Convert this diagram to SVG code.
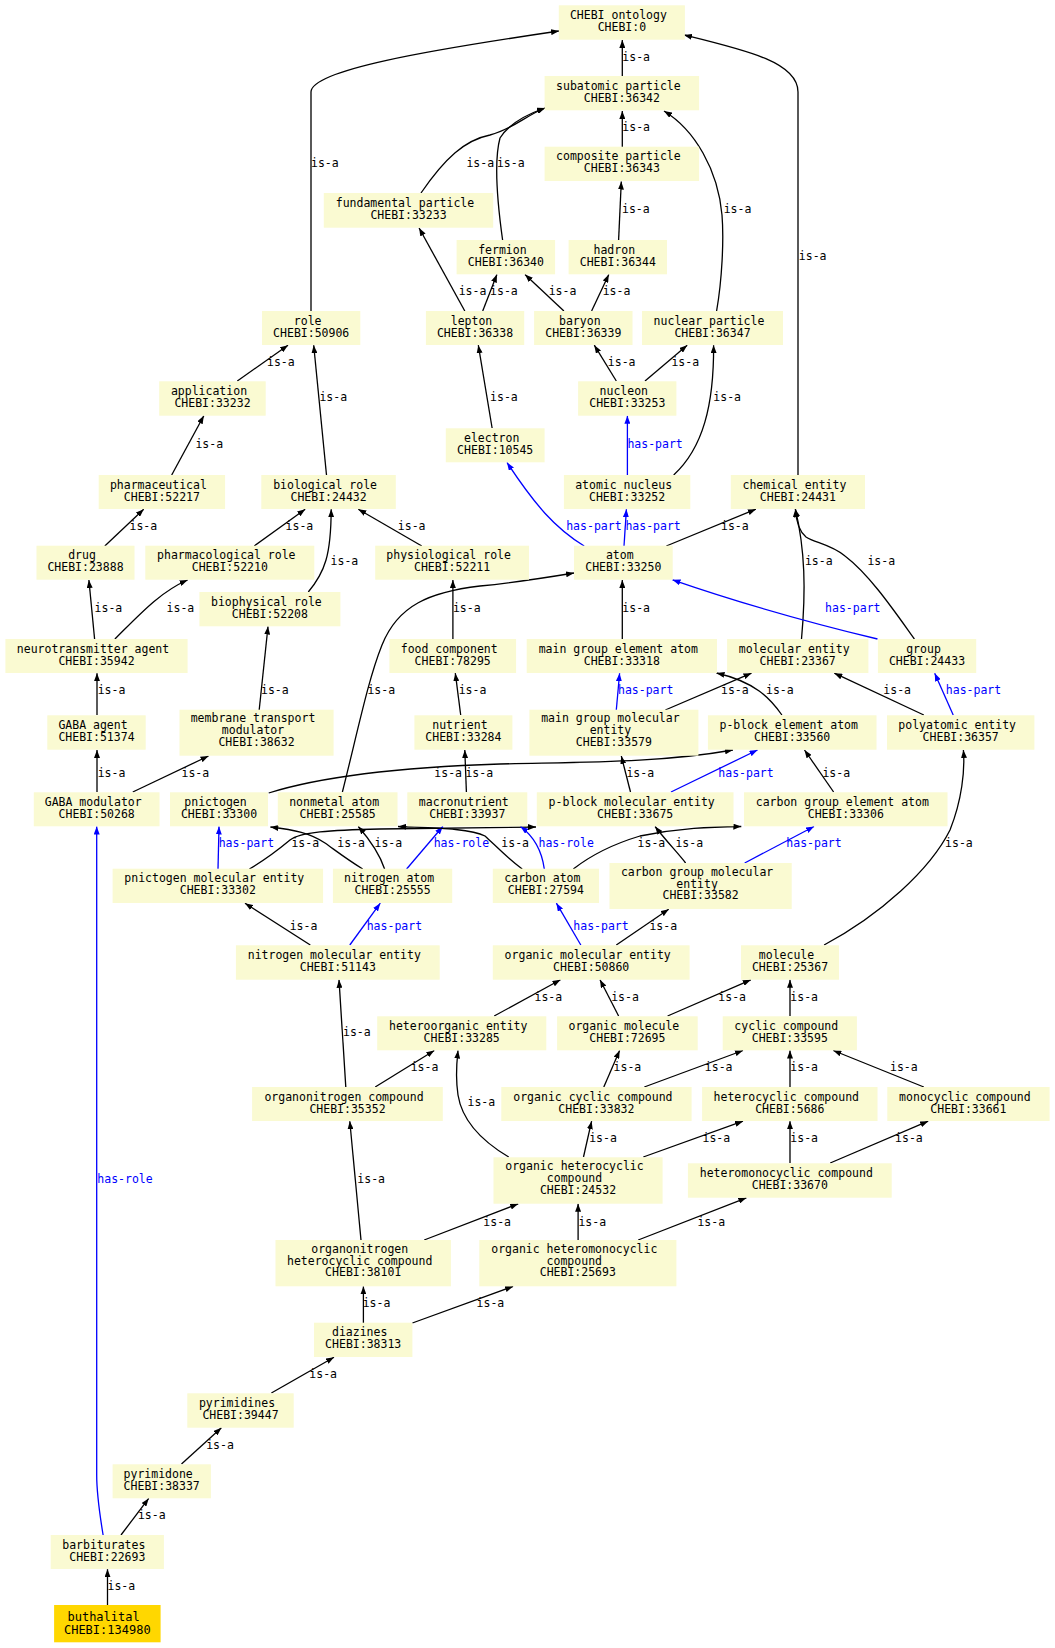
<svg xmlns="http://www.w3.org/2000/svg" width="1055" height="1648" viewBox="0 0 1055 1648">
<style>
.n rect{fill:#fafad2;stroke:none}
.n text,.l{font-family:"DejaVu Sans Mono","Liberation Mono",monospace;font-size:11.5px;fill:#000}
.n text{text-anchor:middle}
.e{fill:none;stroke:#000;stroke-width:1.3;marker-end:url(#ab)}
.e.b{stroke:#0000ff;marker-end:url(#au)}
.l.b{fill:#0000ff}
</style>
<defs>
<marker id="ab" viewBox="0 0 10 10" refX="10" refY="5" markerWidth="8" markerHeight="6" markerUnits="userSpaceOnUse" orient="auto" preserveAspectRatio="none"><path d="M0,0L10,5L0,10z" fill="#000"/></marker>
<marker id="au" viewBox="0 0 10 10" refX="10" refY="5" markerWidth="8" markerHeight="6" markerUnits="userSpaceOnUse" orient="auto" preserveAspectRatio="none"><path d="M0,0L10,5L0,10z" fill="#0000ff"/></marker>
</defs>
<rect width="1055" height="1648" fill="#fff"/>
<g id="connectors">
<path class="e" d="M622.3,76 L622.3,40"/>
<path class="e" d="M311,311 L311,92 C311,70 430,50 559,31"/>
<path class="e" d="M798,475 L798,92 C798,62 745,50 684,35"/>
<path class="e" d="M622.3,147 L622.3,111"/>
<path class="e" d="M421,193 C445,158 465,140 490,135 C515,128 525,116 545,108"/>
<path class="e" d="M502.6,240 C497,200 494,160 500,138 C508,125 525,115 545,108"/>
<path class="e" d="M618.6,240 L621.3,181.5"/>
<path class="e" d="M716.6,311 C722,280 724,240 722,215 C718,170 695,130 664,111"/>
<path class="e" d="M464.8,311 L419.1,228"/>
<path class="e" d="M482.7,311 L496.9,274.5"/>
<path class="e" d="M563.9,311 L525,274.5"/>
<path class="e" d="M591.6,311 L608.8,274.5"/>
<path class="e" d="M616.3,381 L594.3,345.2"/>
<path class="e" d="M645,381 L687.2,345.2"/>
<path class="e" d="M237.3,381 L288,345.2"/>
<path class="e" d="M326.5,475 L313.7,345.2"/>
<path class="e" d="M492.1,428 L478.3,345.2"/>
<path class="e b" d="M627.4,475 L627.4,415.8"/>
<path class="e" d="M673.7,475 C703,448 714,405 713.6,345.2"/>
<path class="e" d="M171.7,475 L203.8,415.8"/>
<path class="e" d="M104.8,546 L143.7,509.2"/>
<path class="e" d="M254.2,546 L305.2,509.2"/>
<path class="e" d="M308.3,592 C325,572 331,555 331.2,509.2"/>
<path class="e" d="M421.8,546 L358.3,509.2"/>
<path class="e b" d="M584.2,546 C555,528 535,505 507,462.5"/>
<path class="e b" d="M624,546 L626.4,509.2"/>
<path class="e" d="M666.3,546 L755.9,509.2"/>
<path class="e" d="M801.5,639 C806,590 805,550 795.4,509.2"/>
<path class="e" d="M914.4,639 C895,612 870,575 845,556 C830,544 815,543 806,537 C798,530 796,520 795.4,509.2"/>
<path class="e b" d="M877.5,639 C840,630 760,610 672.5,579.8"/>
<path class="e" d="M622.3,639 L622.3,580"/>
<path class="e" d="M94.6,639 L88.9,580"/>
<path class="e" d="M114.9,639 C140,614 160,592 187.6,580"/>
<path class="e" d="M452.9,639 L452.9,580"/>
<path class="e" d="M342.4,792 C358,730 368,680 382,645 C398,605 430,592 480,586 C520,582 550,577 574,573"/>
<path class="e" d="M97,715 L97,673.2"/>
<path class="e" d="M259.2,710 L268,626.5"/>
<path class="e" d="M460.7,715 L455.3,673.2"/>
<path class="e b" d="M616.3,710 L619.6,673.2"/>
<path class="e" d="M665.3,710 L751.5,673.2"/>
<path class="e" d="M781.9,715 C770,698 755,682 716.5,673"/>
<path class="e" d="M923.8,715 L834.3,673.2"/>
<path class="e b" d="M953.2,715 L934.7,673.2"/>
<path class="e" d="M97,792 L97,750"/>
<path class="e" d="M132.8,792 L208.5,756"/>
<path class="e" d="M268.7,793 C310,780 380,768 500,764 C580,762 660,763 732.9,750"/>
<path class="e" d="M466.4,792 L464.8,750"/>
<path class="e" d="M630.5,792 L621.3,756"/>
<path class="e b" d="M671,792 L757.5,750"/>
<path class="e" d="M833.6,792 L804.5,750"/>
<path class="e" d="M824.1,945 C880,915 930,870 950,830 C962,800 965,770 963.4,750"/>
<path class="e b" d="M218,869 L219,826.5"/>
<path class="e" d="M249.4,869 C268,858 278,850 290,840 C300,832 330,830 380,829 L536,827"/>
<path class="e" d="M362.7,869 C345,858 335,850 325,843 C310,833 295,830 270.4,827"/>
<path class="e" d="M384.6,869 C380,855 370,840 358.3,826.5"/>
<path class="e b" d="M406.6,869 L442.8,826.5"/>
<path class="e" d="M522.2,869 C505,856 495,845 485,836 C470,828 430,828 398,826.5"/>
<path class="e b" d="M544.3,869 C542,852 536,838 520.5,826.5"/>
<path class="e" d="M573.3,869 C590,856 610,845 640,836 C680,828 710,827 741.3,826.5"/>
<path class="e" d="M685.6,863 C678,853 667,842 655.1,826.5"/>
<path class="e b" d="M744.7,863 L814,826.5"/>
<path class="e" d="M310.3,945 L245,903.2"/>
<path class="e b" d="M349.8,945 L380.3,903.2"/>
<path class="e b" d="M580.8,945 L556.4,903.2"/>
<path class="e" d="M616.3,945 L668.7,909.2"/>
<path class="e" d="M494.2,1016 L560.5,979.8"/>
<path class="e" d="M618.6,1016 L600,979.8"/>
<path class="e" d="M667.6,1016 L750.8,979.8"/>
<path class="e" d="M790,1016 L790,979.8"/>
<path class="e" d="M345.8,1087 L339,979.8"/>
<path class="e" d="M375.2,1087 L434.3,1050.5"/>
<path class="e" d="M603.8,1087 L619.6,1050.5"/>
<path class="e" d="M644.3,1087 L743,1050.5"/>
<path class="e" d="M790,1087 L790,1050.5"/>
<path class="e" d="M923.8,1087 L833.3,1050.5"/>
<path class="e" d="M508.7,1157 C480,1140 462,1120 458,1095 C455,1075 457,1060 458,1050.5"/>
<path class="e" d="M583.5,1157 L591.6,1121.2"/>
<path class="e" d="M643.3,1157 L743,1121.2"/>
<path class="e" d="M790,1163 L790,1121.2"/>
<path class="e" d="M830.2,1163 L928.2,1121.2"/>
<path class="e" d="M361,1240 L349.8,1121.2"/>
<path class="e" d="M424.2,1240 L518.2,1203.8"/>
<path class="e" d="M578.1,1240 L578.1,1203.8"/>
<path class="e" d="M638.2,1240 L746.4,1197.8"/>
<path class="e" d="M363.4,1323 L363.4,1286.4"/>
<path class="e" d="M412.4,1323 L513.1,1286.4"/>
<path class="e" d="M271.4,1393 L334,1357.2"/>
<path class="e" d="M181.5,1464 L221.4,1427.8"/>
<path class="e" d="M121,1535 L148.7,1498.4"/>
<path class="e" d="M107.5,1605 L107.5,1569.2"/>
<path class="e b" d="M103.1,1535 C99,1510 96.7,1495 96.7,1475 L96.7,826.5"/>
<g id="edge-labels">
<text class="l" x="622.3" y="61.3">is-a</text>
<text class="l" x="311" y="167.3">is-a</text>
<text class="l" x="798.8" y="260.3">is-a</text>
<text class="l" x="622.3" y="131.3">is-a</text>
<text class="l" x="466.4" y="167.3">is-a</text>
<text class="l" x="496.9" y="167.3">is-a</text>
<text class="l" x="622" y="213.3">is-a</text>
<text class="l" x="723.7" y="213.3">is-a</text>
<text class="l" x="458.7" y="295">is-a</text>
<text class="l" x="490.1" y="295">is-a</text>
<text class="l" x="548.7" y="295">is-a</text>
<text class="l" x="602.7" y="295">is-a</text>
<text class="l" x="607.8" y="366.3">is-a</text>
<text class="l" x="671.4" y="366.3">is-a</text>
<text class="l" x="267" y="366.3">is-a</text>
<text class="l" x="319.4" y="401.3">is-a</text>
<text class="l" x="490.1" y="401.3">is-a</text>
<text class="l b" x="627.4" y="448.3">has-part</text>
<text class="l" x="713.3" y="401.3">is-a</text>
<text class="l" x="195.4" y="448.3">is-a</text>
<text class="l" x="129.5" y="530.3">is-a</text>
<text class="l" x="285.6" y="530.3">is-a</text>
<text class="l" x="330.6" y="565.3">is-a</text>
<text class="l" x="397.8" y="530.3">is-a</text>
<text class="l b" x="566.2" y="530.3">has-part</text>
<text class="l b" x="625.4" y="530.3">has-part</text>
<text class="l" x="721" y="530.3">is-a</text>
<text class="l" x="804.9" y="565.3">is-a</text>
<text class="l" x="867.4" y="565.3">is-a</text>
<text class="l b" x="825.1" y="612.3">has-part</text>
<text class="l" x="622.3" y="612.3">is-a</text>
<text class="l" x="94.6" y="612.3">is-a</text>
<text class="l" x="166.6" y="612.3">is-a</text>
<text class="l" x="452.9" y="612.3">is-a</text>
<text class="l" x="367.4" y="694">is-a</text>
<text class="l" x="97.7" y="694">is-a</text>
<text class="l" x="261" y="694">is-a</text>
<text class="l" x="458.7" y="694">is-a</text>
<text class="l b" x="618" y="694">has-part</text>
<text class="l" x="721" y="694">is-a</text>
<text class="l" x="766" y="694">is-a</text>
<text class="l" x="883.3" y="694">is-a</text>
<text class="l b" x="945.8" y="694">has-part</text>
<text class="l" x="97.7" y="777.3">is-a</text>
<text class="l" x="181.5" y="777.3">is-a</text>
<text class="l" x="434.3" y="777.3">is-a</text>
<text class="l" x="465.4" y="777.3">is-a</text>
<text class="l" x="626.4" y="777.3">is-a</text>
<text class="l b" x="718.3" y="777.3">has-part</text>
<text class="l" x="822.4" y="777.3">is-a</text>
<text class="l" x="945.1" y="847.3">is-a</text>
<text class="l b" x="218.7" y="847.3">has-part</text>
<text class="l" x="291.4" y="847.3">is-a</text>
<text class="l" x="337.3" y="847.3">is-a</text>
<text class="l" x="374.5" y="847.3">is-a</text>
<text class="l b" x="433.7" y="847.3">has-role</text>
<text class="l" x="501.3" y="847.3">is-a</text>
<text class="l b" x="538.5" y="847.3">has-role</text>
<text class="l" x="637.6" y="847.3">is-a</text>
<text class="l" x="675.4" y="847.3">is-a</text>
<text class="l b" x="786.3" y="847.3">has-part</text>
<text class="l" x="289.7" y="930">is-a</text>
<text class="l b" x="366.7" y="930">has-part</text>
<text class="l b" x="573.3" y="930">has-part</text>
<text class="l" x="649.4" y="930">is-a</text>
<text class="l" x="534.5" y="1001.3">is-a</text>
<text class="l" x="611.2" y="1001.3">is-a</text>
<text class="l" x="718.3" y="1001.3">is-a</text>
<text class="l" x="790.3" y="1001.3">is-a</text>
<text class="l" x="343" y="1036.3">is-a</text>
<text class="l" x="410.7" y="1071.3">is-a</text>
<text class="l" x="613.6" y="1071.3">is-a</text>
<text class="l" x="704.8" y="1071.3">is-a</text>
<text class="l" x="790.3" y="1071.3">is-a</text>
<text class="l" x="890" y="1071.3">is-a</text>
<text class="l" x="467.5" y="1105.7">is-a</text>
<text class="l" x="589.2" y="1142.3">is-a</text>
<text class="l" x="702.5" y="1142.3">is-a</text>
<text class="l" x="790.3" y="1142.3">is-a</text>
<text class="l" x="895.1" y="1142.3">is-a</text>
<text class="l" x="357.3" y="1183">is-a</text>
<text class="l" x="483.3" y="1225.7">is-a</text>
<text class="l" x="578.4" y="1225.7">is-a</text>
<text class="l" x="697.4" y="1225.7">is-a</text>
<text class="l" x="362.7" y="1307.3">is-a</text>
<text class="l" x="476.6" y="1307.3">is-a</text>
<text class="l" x="309.3" y="1378.3">is-a</text>
<text class="l" x="206.2" y="1449.3">is-a</text>
<text class="l" x="137.9" y="1519.3">is-a</text>
<text class="l" x="107.5" y="1590.3">is-a</text>
<text class="l b" x="97.3" y="1183">has-role</text>
</g>
</g>
<g id="n0" class="n"><rect x="558.8" y="5.3" width="126.1" height="34.4"/><text x="618.4" y="18.9">CHEBI ontology</text><text x="621.9" y="30.9">CHEBI:0</text></g>
<g id="n36342" class="n"><rect x="544.6" y="76" width="154.5" height="34.3"/><text x="618.4" y="89.6">subatomic particle</text><text x="621.9" y="101.6">CHEBI:36342</text></g>
<g id="n36343" class="n"><rect x="544.6" y="146.7" width="154.5" height="34.3"/><text x="618.4" y="160.3">composite particle</text><text x="621.9" y="172.3">CHEBI:36343</text></g>
<g id="n33233" class="n"><rect x="323.8" y="193" width="169.4" height="34.7"/><text x="405" y="206.6">fundamental particle</text><text x="408.5" y="218.6">CHEBI:33233</text></g>
<g id="n36340" class="n"><rect x="456.6" y="240" width="98.5" height="34.3"/><text x="502.4" y="253.6">fermion</text><text x="505.9" y="265.6">CHEBI:36340</text></g>
<g id="n36344" class="n"><rect x="568.6" y="240" width="98.4" height="34.3"/><text x="614.3" y="253.6">hadron</text><text x="617.8" y="265.6">CHEBI:36344</text></g>
<g id="n50906" class="n"><rect x="262" y="311" width="98.3" height="34"/><text x="307.7" y="324.6">role</text><text x="311.2" y="336.6">CHEBI:50906</text></g>
<g id="n36338" class="n"><rect x="425.9" y="311" width="98.3" height="34"/><text x="471.5" y="324.6">lepton</text><text x="475" y="336.6">CHEBI:36338</text></g>
<g id="n36339" class="n"><rect x="534.1" y="311" width="98.4" height="34"/><text x="579.8" y="324.6">baryon</text><text x="583.3" y="336.6">CHEBI:36339</text></g>
<g id="n36347" class="n"><rect x="642" y="311" width="141" height="34"/><text x="709" y="324.6">nuclear particle</text><text x="712.5" y="336.6">CHEBI:36347</text></g>
<g id="n33232" class="n"><rect x="159.2" y="381.3" width="106.5" height="34.4"/><text x="209" y="394.9">application</text><text x="212.5" y="406.9">CHEBI:33232</text></g>
<g id="n33253" class="n"><rect x="578.1" y="381.3" width="98.3" height="34.4"/><text x="623.8" y="394.9">nucleon</text><text x="627.3" y="406.9">CHEBI:33253</text></g>
<g id="n10545" class="n"><rect x="445.8" y="428.3" width="98.8" height="34"/><text x="491.7" y="441.9">electron</text><text x="495.2" y="453.9">CHEBI:10545</text></g>
<g id="n52217" class="n"><rect x="98.7" y="475" width="126.4" height="34"/><text x="158.4" y="488.6">pharmaceutical</text><text x="161.9" y="500.6">CHEBI:52217</text></g>
<g id="n24432" class="n"><rect x="261.3" y="475" width="134.5" height="34"/><text x="325.1" y="488.6">biological role</text><text x="328.6" y="500.6">CHEBI:24432</text></g>
<g id="n33252" class="n"><rect x="563.9" y="475" width="126.4" height="34"/><text x="623.6" y="488.6">atomic nucleus</text><text x="627.1" y="500.6">CHEBI:33252</text></g>
<g id="n24431" class="n"><rect x="730.8" y="475" width="134.2" height="34"/><text x="794.4" y="488.6">chemical entity</text><text x="797.9" y="500.6">CHEBI:24431</text></g>
<g id="n23888" class="n"><rect x="36.5" y="545.7" width="98" height="34"/><text x="82" y="559.3">drug</text><text x="85.5" y="571.3">CHEBI:23888</text></g>
<g id="n52210" class="n"><rect x="145.3" y="545.7" width="169" height="34"/><text x="226.3" y="559.3">pharmacological role</text><text x="229.8" y="571.3">CHEBI:52210</text></g>
<g id="n52211" class="n"><rect x="375.2" y="545.7" width="153.8" height="34"/><text x="448.6" y="559.3">physiological role</text><text x="452.1" y="571.3">CHEBI:52211</text></g>
<g id="n33250" class="n"><rect x="574" y="545.7" width="98.7" height="34"/><text x="619.8" y="559.3">atom</text><text x="623.3" y="571.3">CHEBI:33250</text></g>
<g id="n52208" class="n"><rect x="199.4" y="592" width="141" height="34.3"/><text x="266.4" y="605.6">biophysical role</text><text x="269.9" y="617.6">CHEBI:52208</text></g>
<g id="n35942" class="n"><rect x="5.4" y="639" width="182.2" height="34"/><text x="93" y="652.6">neurotransmitter agent</text><text x="96.5" y="664.6">CHEBI:35942</text></g>
<g id="n78295" class="n"><rect x="389.4" y="639" width="126.7" height="34"/><text x="449.2" y="652.6">food component</text><text x="452.7" y="664.6">CHEBI:78295</text></g>
<g id="n33318" class="n"><rect x="526.7" y="639" width="190.3" height="34"/><text x="618.3" y="652.6">main group element atom</text><text x="621.8" y="664.6">CHEBI:33318</text></g>
<g id="n23367" class="n"><rect x="727.1" y="639" width="141.3" height="34"/><text x="794.2" y="652.6">molecular entity</text><text x="797.7" y="664.6">CHEBI:23367</text></g>
<g id="n24433" class="n"><rect x="877.9" y="639" width="98.3" height="34"/><text x="923.5" y="652.6">group</text><text x="927" y="664.6">CHEBI:24433</text></g>
<g id="n51374" class="n"><rect x="47.3" y="715.3" width="98.4" height="34.4"/><text x="93" y="728.9">GABA agent</text><text x="96.5" y="740.9">CHEBI:51374</text></g>
<g id="n38632" class="n"><rect x="179.5" y="709.7" width="154.1" height="46"/><text x="253" y="722.3">membrane transport</text><text x="253" y="734.3">modulator</text><text x="256.5" y="746.1">CHEBI:38632</text></g>
<g id="n33284" class="n"><rect x="414.4" y="715.3" width="98" height="34.4"/><text x="459.9" y="728.9">nutrient</text><text x="463.4" y="740.9">CHEBI:33284</text></g>
<g id="n33579" class="n"><rect x="529.4" y="709.7" width="169" height="46"/><text x="610.4" y="722.3">main group molecular</text><text x="610.4" y="734.3">entity</text><text x="613.9" y="746.1">CHEBI:33579</text></g>
<g id="n33560" class="n"><rect x="707.9" y="715.3" width="168.6" height="34.4"/><text x="788.7" y="728.9">p-block element atom</text><text x="792.2" y="740.9">CHEBI:33560</text></g>
<g id="n36357" class="n"><rect x="887" y="715.3" width="147.4" height="34.4"/><text x="957.2" y="728.9">polyatomic entity</text><text x="960.7" y="740.9">CHEBI:36357</text></g>
<g id="n50268" class="n"><rect x="33.8" y="792.3" width="125.7" height="34"/><text x="93.2" y="805.9">GABA modulator</text><text x="96.7" y="817.9">CHEBI:50268</text></g>
<g id="n33300" class="n"><rect x="170" y="792.3" width="98" height="34"/><text x="215.5" y="805.9">pnictogen</text><text x="219" y="817.9">CHEBI:33300</text></g>
<g id="n25585" class="n"><rect x="277.8" y="792.3" width="119.7" height="34"/><text x="334.2" y="805.9">nonmetal atom</text><text x="337.7" y="817.9">CHEBI:25585</text></g>
<g id="n33937" class="n"><rect x="407.3" y="792.3" width="120" height="34"/><text x="463.8" y="805.9">macronutrient</text><text x="467.3" y="817.9">CHEBI:33937</text></g>
<g id="n33675" class="n"><rect x="536.8" y="792.3" width="196.7" height="34"/><text x="631.7" y="805.9">p-block molecular entity</text><text x="635.2" y="817.9">CHEBI:33675</text></g>
<g id="n33306" class="n"><rect x="744" y="792.3" width="203.5" height="34"/><text x="842.3" y="805.9">carbon group element atom</text><text x="845.8" y="817.9">CHEBI:33306</text></g>
<g id="n33302" class="n"><rect x="112.6" y="868.7" width="210.5" height="34.3"/><text x="214.3" y="882.3">pnictogen molecular entity</text><text x="217.8" y="894.3">CHEBI:33302</text></g>
<g id="n25555" class="n"><rect x="332.9" y="868.7" width="119.3" height="34.3"/><text x="389.1" y="882.3">nitrogen atom</text><text x="392.6" y="894.3">CHEBI:25555</text></g>
<g id="n27594" class="n"><rect x="492.8" y="868.7" width="106.2" height="34.3"/><text x="542.4" y="882.3">carbon atom</text><text x="545.9" y="894.3">CHEBI:27594</text></g>
<g id="n33582" class="n"><rect x="609.5" y="863" width="182.2" height="46"/><text x="697.1" y="875.6">carbon group molecular</text><text x="697.1" y="887.6">entity</text><text x="700.6" y="899.4">CHEBI:33582</text></g>
<g id="n51143" class="n"><rect x="235.9" y="945.3" width="203.8" height="34.4"/><text x="334.3" y="958.9">nitrogen molecular entity</text><text x="337.8" y="970.9">CHEBI:51143</text></g>
<g id="n50860" class="n"><rect x="492.8" y="945.3" width="196.8" height="34.4"/><text x="587.7" y="958.9">organic molecular entity</text><text x="591.2" y="970.9">CHEBI:50860</text></g>
<g id="n25367" class="n"><rect x="741" y="945.3" width="98" height="34.4"/><text x="786.5" y="958.9">molecule</text><text x="790" y="970.9">CHEBI:25367</text></g>
<g id="n33285" class="n"><rect x="377.2" y="1016.3" width="169.1" height="34"/><text x="458.2" y="1029.9">heteroorganic entity</text><text x="461.7" y="1041.9">CHEBI:33285</text></g>
<g id="n72695" class="n"><rect x="557.1" y="1016.3" width="140.6" height="34"/><text x="623.9" y="1029.9">organic molecule</text><text x="627.4" y="1041.9">CHEBI:72695</text></g>
<g id="n33595" class="n"><rect x="722.7" y="1016.3" width="134.2" height="34"/><text x="786.3" y="1029.9">cyclic compound</text><text x="789.8" y="1041.9">CHEBI:33595</text></g>
<g id="n35352" class="n"><rect x="252.1" y="1087" width="190.7" height="34"/><text x="344" y="1100.6">organonitrogen compound</text><text x="347.5" y="1112.6">CHEBI:35352</text></g>
<g id="n33832" class="n"><rect x="501.3" y="1087" width="190.3" height="34"/><text x="592.9" y="1100.6">organic cyclic compound</text><text x="596.4" y="1112.6">CHEBI:33832</text></g>
<g id="n5686" class="n"><rect x="702.1" y="1087" width="175.4" height="34"/><text x="786.3" y="1100.6">heterocyclic compound</text><text x="789.8" y="1112.6">CHEBI:5686</text></g>
<g id="n33661" class="n"><rect x="887.3" y="1087" width="162.3" height="34"/><text x="964.9" y="1100.6">monocyclic compound</text><text x="968.4" y="1112.6">CHEBI:33661</text></g>
<g id="n24532" class="n"><rect x="493.5" y="1157.3" width="169.1" height="46.4"/><text x="574.5" y="1169.9">organic heterocyclic</text><text x="574.5" y="1181.9">compound</text><text x="578" y="1193.7">CHEBI:24532</text></g>
<g id="n33670" class="n"><rect x="687.9" y="1163.3" width="203.8" height="34.4"/><text x="786.3" y="1176.9">heteromonocyclic compound</text><text x="789.8" y="1188.9">CHEBI:33670</text></g>
<g id="n38101" class="n"><rect x="275.5" y="1240" width="175.4" height="46.3"/><text x="359.7" y="1252.6">organonitrogen</text><text x="359.7" y="1264.6">heterocyclic compound</text><text x="363.2" y="1276.4">CHEBI:38101</text></g>
<g id="n25693" class="n"><rect x="479.3" y="1240" width="197.1" height="46.3"/><text x="574.3" y="1252.6">organic heteromonocyclic</text><text x="574.3" y="1264.6">compound</text><text x="577.8" y="1276.4">CHEBI:25693</text></g>
<g id="n38313" class="n"><rect x="314" y="1322.7" width="98.4" height="34.3"/><text x="359.7" y="1336.3">diazines</text><text x="363.2" y="1348.3">CHEBI:38313</text></g>
<g id="n39447" class="n"><rect x="187.3" y="1393.3" width="106.4" height="34.4"/><text x="237" y="1406.9">pyrimidines</text><text x="240.5" y="1418.9">CHEBI:39447</text></g>
<g id="n38337" class="n"><rect x="112.6" y="1464.3" width="98.3" height="34"/><text x="158.2" y="1477.9">pyrimidone</text><text x="161.7" y="1489.9">CHEBI:38337</text></g>
<g id="n22693" class="n"><rect x="50.7" y="1535" width="113.2" height="34"/><text x="103.8" y="1548.6">barbiturates</text><text x="107.3" y="1560.6">CHEBI:22693</text></g>
<g id="n134980" class="n"><rect x="54.1" y="1605" width="106.5" height="37.3" style="fill:#ffd700"/><text x="103.6" y="1621" style="font-size:12px">buthalital</text><text x="107.3" y="1634.3" style="font-size:12px">CHEBI:134980</text></g>
</svg>
